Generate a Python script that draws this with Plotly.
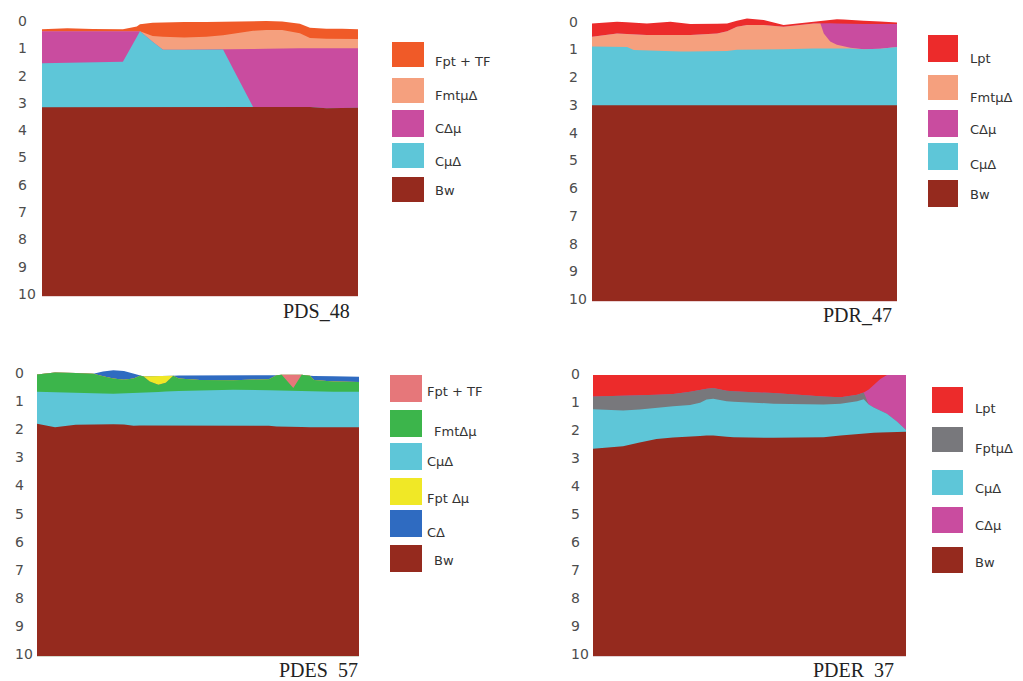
import plotly.graph_objects as go

W, H = 1023, 681
BOTTOM = 10.08          # lower limit of every profile (depth units)
DEPTH_TICKS = list(range(0, 11))

# layer colours
BW = "#952a1e"
CYAN = "#5ec6d8"
MAGENTA = "#c94c9f"
SALMON = "#f5a07e"
ORANGE = "#f05a28"
RED = "#ec2b2b"
GREEN = "#3cb54b"
YELLOW = "#f0e826"
BLUE = "#2f6bc1"
PINK = "#e6777a"
GREY = "#78787c"

# ---------------- PDS_48 : top depth of each layer along the transect ----------------
pds48_x = [0, 8, 16, 25.6, 30, 31, 35, 38.3, 45, 52, 57.3, 61, 66.8, 71, 76, 81.6, 84.8, 90, 95, 100]
pds48_fpt_tf = [0.30, 0.27, 0.29, 0.30, 0.20, 0.12, 0.06, 0.05, 0.04, 0.04, 0.03, 0.02, 0.00, 0.00, 0.02, 0.10, 0.25, 0.28, 0.28, 0.30]
pds48_fmt = [0.38, 0.38, 0.37, 0.37, 0.36, 0.38, 0.55, 0.58, 0.60, 0.58, 0.52, 0.45, 0.36, 0.33, 0.33, 0.45, 0.62, 0.65, 0.66, 0.66]
pds48_cdm = [0.38, 0.38, 0.37, 0.37, 0.36, 0.38, 0.76, 1.05, 1.05, 1.05, 1.04, 1.04, 1.03, 1.02, 1.00, 1.00, 1.00, 1.00, 1.00, 1.00]
pds48_cmd = [1.55, 1.53, 1.52, 1.49, 0.59, 0.38, 0.76, 1.05, 1.05, 1.05, 1.04, 1.87, 3.15, 3.15, 3.17, 3.16, 3.15, 3.20, 3.20, 3.18]
pds48_bw = [3.16, 3.16, 3.15, 3.15, 3.15, 3.15, 3.15, 3.15, 3.15, 3.15, 3.15, 3.15, 3.15, 3.15, 3.17, 3.16, 3.15, 3.20, 3.20, 3.18]

# ---------------- PDR_47 ----------------
pdr47_x = [0, 8.2, 11.5, 13.7, 18, 25.7, 29, 32.2, 41, 44.3, 47.5, 50.8, 56.3, 62.8, 72.7, 74.9, 76, 78.1, 80.3, 82.5, 84.7, 89.1, 94.5, 100]
pdr47_lpt = [0.07, 0.01, 0.03, 0.05, 0.07, 0.01, 0.05, 0.09, 0.08, 0.07, -0.03, -0.11, -0.05, 0.13, 0.01, -0.02, -0.04, -0.06, -0.08, -0.07, -0.05, -0.03, 0.00, 0.04]
pdr47_cdm = [0.55, 0.43, 0.45, 0.47, 0.49, 0.49, 0.49, 0.49, 0.43, 0.35, 0.19, 0.13, 0.13, 0.19, 0.07, 0.06, 0.06, 0.06, 0.07, 0.08, 0.08, 0.09, 0.09, 0.09]
pdr47_fmt = [0.55, 0.43, 0.45, 0.47, 0.49, 0.49, 0.49, 0.49, 0.43, 0.35, 0.19, 0.13, 0.13, 0.19, 0.07, 0.07, 0.43, 0.72, 0.84, 0.90, 0.95, 1.00, 0.98, 0.92]
pdr47_cmd = [0.90, 0.90, 0.92, 1.03, 1.05, 1.07, 1.08, 1.08, 1.08, 1.06, 1.02, 1.02, 1.02, 1.00, 0.97, 0.97, 0.97, 0.97, 0.97, 0.97, 0.97, 1.00, 0.98, 0.92]
pdr47_bw = [3.02] * 24

# ---------------- PDES 57 ----------------
pdes57_x = [0, 5.6, 12, 17.5, 20.5, 23.7, 27, 30, 32, 33, 35, 37.7, 40, 41.3, 42.3, 44, 50.6, 61, 72, 74.4, 76, 79.6, 82.2, 84.8, 86, 92, 100]
pdes57_cd = [0.05, -0.02, 0.00, 0.03, -0.05, -0.10, -0.07, 0.02, 0.10, 0.12, 0.12, 0.12, 0.12, 0.12, 0.10, 0.09, 0.09, 0.10, 0.09, 0.08, 0.06, 0.06, 0.06, 0.10, 0.11, 0.12, 0.13]
pdes57_fpt_dm = [0.05, -0.02, 0.00, 0.03, 0.12, 0.20, 0.24, 0.20, 0.10, 0.12, 0.12, 0.12, 0.12, 0.12, 0.10, 0.20, 0.25, 0.26, 0.22, 0.08, 0.06, 0.06, 0.06, 0.10, 0.25, 0.30, 0.32]
pdes57_fpt_tf = [0.05, -0.02, 0.00, 0.03, 0.12, 0.20, 0.24, 0.20, 0.10, 0.12, 0.30, 0.42, 0.35, 0.22, 0.10, 0.20, 0.25, 0.26, 0.22, 0.08, 0.06, 0.06, 0.06, 0.10, 0.25, 0.30, 0.32]
pdes57_fmt = [0.05, -0.02, 0.00, 0.03, 0.12, 0.20, 0.24, 0.20, 0.10, 0.12, 0.30, 0.42, 0.35, 0.22, 0.10, 0.20, 0.25, 0.26, 0.22, 0.08, 0.06, 0.53, 0.06, 0.10, 0.25, 0.30, 0.32]
pdes57_cmd = [0.67, 0.68, 0.70, 0.72, 0.73, 0.74, 0.73, 0.72, 0.71, 0.70, 0.69, 0.68, 0.66, 0.65, 0.65, 0.64, 0.62, 0.60, 0.61, 0.62, 0.63, 0.64, 0.65, 0.66, 0.66, 0.67, 0.67]
pdes57_bw = [1.81, 1.93, 1.84, 1.82, 1.82, 1.82, 1.83, 1.88, 1.87, 1.87, 1.87, 1.87, 1.87, 1.87, 1.87, 1.87, 1.87, 1.87, 1.88, 1.90, 1.90, 1.91, 1.92, 1.93, 1.93, 1.93, 1.93]

# ---------------- PDER 37 ----------------
pder37_x = [0, 7.5, 9.6, 14.9, 20.3, 25.6, 31, 34.2, 36.3, 38.4, 42.7, 44.9, 57.7, 73.7, 79.1, 84.4, 86.5, 88.1, 89.7, 91.8, 93.9, 97.1, 100]
pder37_lpt = [0.04] * 23
pder37_cdm = [0.80, 0.79, 0.78, 0.76, 0.74, 0.71, 0.63, 0.56, 0.53, 0.50, 0.60, 0.62, 0.68, 0.80, 0.83, 0.74, 0.66, 0.55, 0.39, 0.18, 0.04, 0.04, 0.04]
pder37_fpt = [0.80, 0.79, 0.78, 0.76, 0.74, 0.71, 0.63, 0.56, 0.53, 0.50, 0.60, 0.62, 0.68, 0.80, 0.83, 0.74, 0.66, 1.09, 1.20, 1.30, 1.42, 1.70, 2.00]
pder37_cmd = [1.26, 1.29, 1.30, 1.27, 1.20, 1.15, 1.11, 1.03, 0.91, 0.88, 0.97, 0.99, 1.06, 1.09, 1.06, 0.97, 0.90, 1.09, 1.20, 1.30, 1.42, 1.70, 2.00]
pder37_bw = [2.67, 2.61, 2.58, 2.45, 2.32, 2.27, 2.22, 2.21, 2.20, 2.20, 2.24, 2.26, 2.28, 2.26, 2.20, 2.14, 2.12, 2.11, 2.10, 2.09, 2.08, 2.07, 2.06]

# panel set-up: layers listed from the surface downwards, legend in display order
panels = [
    dict(n=1, x=pds48_x, xl=42, xr=358, y0=21, scale=27.3, tick_x=16,
         layers=[("Fpt + TF", ORANGE, pds48_fpt_tf), ("FmtμΔ", SALMON, pds48_fmt),
                 ("CΔμ", MAGENTA, pds48_cdm), ("CμΔ", CYAN, pds48_cmd), ("Bw", BW, pds48_bw)],
         legend=["Fpt + TF", "FmtμΔ", "CΔμ", "CμΔ", "Bw"],
         sw_x=(392, 424), sw_rows=[(42, 67), (78, 103), (110, 137), (143, 168), (177, 202)],
         txt_x=[433, 433, 433, 433, 433], txt_y=[61, 96, 128, 162, 191],
         label="PDS_48", label_xy=(316, 311)),
    dict(n=2, x=pdr47_x, xl=592, xr=897, y0=21.5, scale=27.75, tick_x=567,
         layers=[("Lpt", RED, pdr47_lpt), ("CΔμ", MAGENTA, pdr47_cdm), ("FmtμΔ", SALMON, pdr47_fmt),
                 ("CμΔ", CYAN, pdr47_cmd), ("Bw", BW, pdr47_bw)],
         legend=["Lpt", "FmtμΔ", "CΔμ", "CμΔ", "Bw"],
         sw_x=(928, 958), sw_rows=[(35, 62), (75, 100), (110, 137), (143, 170), (180, 207)],
         txt_x=[968, 968, 968, 968, 968], txt_y=[58, 97, 129, 164, 194],
         label="PDR_47", label_xy=(857, 315)),
    dict(n=3, x=pdes57_x, xl=37, xr=359, y0=373, scale=28.1, tick_x=13,
         layers=[("CΔ", BLUE, pdes57_cd), ("Fpt Δμ", YELLOW, pdes57_fpt_dm), ("Fpt + TF", PINK, pdes57_fpt_tf),
                 ("FmtΔμ", GREEN, pdes57_fmt), ("CμΔ", CYAN, pdes57_cmd), ("Bw", BW, pdes57_bw)],
         legend=["Fpt + TF", "FmtΔμ", "CμΔ", "Fpt Δμ", "CΔ", "Bw"],
         sw_x=(390, 422), sw_rows=[(375, 402), (410, 437), (443, 470), (478, 505), (510, 537), (545, 572)],
         txt_x=[425, 432, 425, 425, 425, 432], txt_y=[391, 431, 461, 498, 532, 560],
         label="PDES\u00a0\u00a057", label_xy=(318, 670)),
    dict(n=4, x=pder37_x, xl=593, xr=906, y0=374, scale=28.0, tick_x=569,
         layers=[("Lpt", RED, pder37_lpt), ("CΔμ", MAGENTA, pder37_cdm), ("FptμΔ", GREY, pder37_fpt),
                 ("CμΔ", CYAN, pder37_cmd), ("Bw", BW, pder37_bw)],
         legend=["Lpt", "FptμΔ", "CμΔ", "CΔμ", "Bw"],
         sw_x=(932, 963), sw_rows=[(387, 413), (427, 452), (470, 495), (507, 533), (547, 573)],
         txt_x=[973, 973, 973, 973, 973], txt_y=[408, 448, 488, 525, 562],
         label="PDER\u00a0\u00a037", label_xy=(853, 670)),
]

TOP_DEPTH = -0.4

fig = go.Figure()
annotations = []
shapes = []

for p in panels:
    n = p["n"]
    sfx = "" if n == 1 else str(n)
    xref, yref = "x" + sfx, "y" + sfx

    # filled soil horizons: each one from its upper boundary down to the base,
    # deeper horizons painted over the shallower ones
    xs = list(p["x"]) + list(p["x"])[::-1]
    for name, color, top in p["layers"]:
        ys = list(top) + [BOTTOM] * len(p["x"])
        fig.add_trace(go.Scatter(
            x=xs, y=ys, fill="toself", fillcolor=color, mode="lines",
            line=dict(width=0, color=color), name=name,
            xaxis=xref, yaxis=yref, hoverinfo="skip", showlegend=False))

    y_top_px = p["y0"] + TOP_DEPTH * p["scale"]
    y_bot_px = p["y0"] + BOTTOM * p["scale"]
    fig.layout["xaxis" + sfx] = dict(domain=[p["xl"] / W, p["xr"] / W], range=[0, 100],
                                     visible=False, fixedrange=True)
    fig.layout["yaxis" + sfx] = dict(domain=[1 - y_bot_px / H, 1 - y_top_px / H],
                                     range=[BOTTOM, TOP_DEPTH], visible=False, fixedrange=True,
                                     anchor=xref)
    fig.layout["xaxis" + sfx]["anchor"] = yref

    # depth labels
    for d in DEPTH_TICKS:
        annotations.append(dict(
            x=p["tick_x"] / W, xref="paper", y=d, yref=yref, text=str(d),
            showarrow=False, xanchor="left", yanchor="middle",
            font=dict(family="DejaVu Sans", size=14, color="#4d4d4d")))

    # legend swatches and names
    colors = {name: color for name, color, _ in p["layers"]}
    for i, name in enumerate(p["legend"]):
        t, b = p["sw_rows"][i]
        shapes.append(dict(type="rect", xref="paper", yref="paper",
                           x0=p["sw_x"][0] / W, x1=p["sw_x"][1] / W,
                           y0=1 - b / H, y1=1 - t / H,
                           fillcolor=colors[name], line=dict(width=0)))
        annotations.append(dict(
            x=p["txt_x"][i] / W, xref="paper", y=1 - p["txt_y"][i] / H, yref="paper",
            text=name, showarrow=False, xanchor="left", yanchor="middle",
            font=dict(family="DejaVu Sans", size=13, color="#333333")))

    # profile name
    lx, ly = p["label_xy"]
    annotations.append(dict(
        x=lx / W, xref="paper", y=1 - ly / H, yref="paper", text=p["label"],
        showarrow=False, xanchor="center", yanchor="middle",
        font=dict(family="Liberation Serif", size=20, color="#222222")))

fig.update_layout(
    width=W, height=H, margin=dict(l=0, r=0, t=0, b=0),
    paper_bgcolor="white", plot_bgcolor="rgba(0,0,0,0)",
    annotations=annotations, shapes=shapes, showlegend=False)

fig.write_html("out.html", config={"displayModeBar": False})
